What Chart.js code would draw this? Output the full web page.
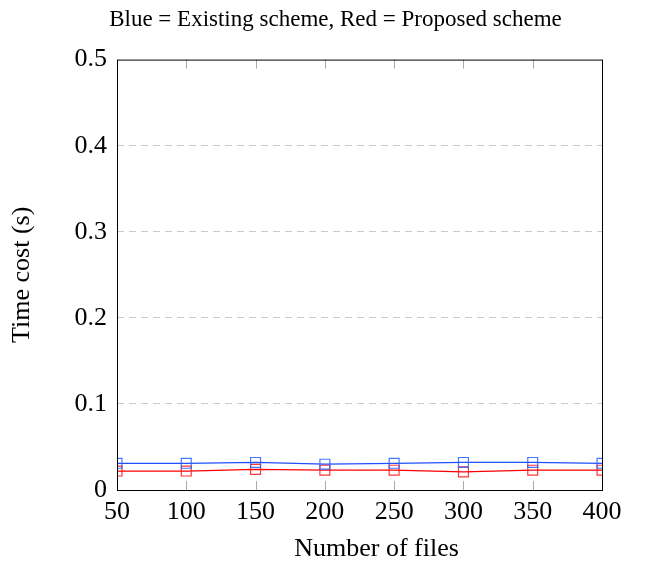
<!DOCTYPE html>
<html>
<head>
<meta charset="utf-8">
<script src="https://cdn.jsdelivr.net/npm/chart.js@4/dist/chart.umd.min.js"></script>
<style>
  html, body { margin: 0; padding: 0; background: #fff; }
  canvas { display: block; }
</style>
</head>
<body>
<canvas id="time-chart" width="658" height="562"></canvas>
<script>
const fileCounts = [50, 100, 150, 200, 250, 300, 350, 400];
const existingCost = [0.031, 0.031, 0.032, 0.030, 0.031, 0.032, 0.032, 0.031];
const proposedCost = [0.022, 0.022, 0.024, 0.023, 0.023, 0.021, 0.023, 0.023];
const yTicks = [0, 0.1, 0.2, 0.3, 0.4, 0.5];

const serif = "'Liberation Serif', 'DejaVu Serif', serif";

const toPoints = (vals) => fileCounts.map((x, i) => ({ x, y: vals[i] }));

// box round the plot plus the short x tick marks inside top and bottom
const frame = {
    id: "frame",
    afterLayout(chart) {
        // the title sits a little right of the canvas centre
        const t = chart.titleBlock;
        if (t) {
            t.left = 69;
            t.right = chart.chartArea.right;
        }
        // x axis title is a bit right of the plot centre too
        const xs = chart.scales.x;
        if (xs && !xs._nudged) {
            const orig = xs.drawTitle.bind(xs);
            xs.drawTitle = (...args) => {
                chart.ctx.save();
                chart.ctx.translate(17, 0);
                orig(...args);
                chart.ctx.restore();
            };
            xs._nudged = true;
        }
    },
    afterDraw(chart) {
        const { ctx, chartArea: a, scales } = chart;
        ctx.save();
        ctx.strokeStyle = "#aaaaaa";
        ctx.lineWidth = 1;
        fileCounts.forEach((v) => {
            const px = Math.round(scales.x.getPixelForValue(v)) + 0.5;
            ctx.beginPath();
            ctx.moveTo(px, a.bottom);
            ctx.lineTo(px, a.bottom - 9);
            ctx.moveTo(px, a.top);
            ctx.lineTo(px, a.top + 9);
            ctx.stroke();
        });
        ctx.strokeStyle = "#000";
        ctx.strokeRect(a.left + 0.5, a.top + 0.5, a.right - a.left, a.bottom - a.top);
        ctx.restore();
    },
};

const ctx = document.getElementById("time-chart");

new Chart(ctx, {
    type: "line",
    data: {
        datasets: [
            {
                label: "Existing scheme",
                data: toPoints(existingCost),
                borderColor: "#1f4fff",
                borderWidth: 1.2,
                pointStyle: "rect",
                pointRadius: 7,
                pointBorderColor: "rgba(40,95,255,0.85)",
                pointBackgroundColor: "transparent",
                pointBorderWidth: 1.2,
                tension: 0,
            },
            {
                label: "Proposed scheme",
                data: toPoints(proposedCost),
                borderColor: "#ff0000",
                borderWidth: 1.2,
                pointStyle: "rect",
                pointRadius: 7,
                pointBorderColor: "rgba(255,20,20,0.85)",
                pointBackgroundColor: "transparent",
                pointBorderWidth: 1.2,
                tension: 0,
            },
        ],
    },
    options: {
        responsive: false,
        animation: false,
        layout: { padding: { left: 0, right: 56, top: 0, bottom: 0 } },
        plugins: {
            legend: { display: false },
            tooltip: { enabled: false },
            title: {
                display: true,
                text: "Blue = Existing scheme, Red = Proposed scheme",
                color: "#000",
                font: { family: serif, size: 23, weight: "normal", lineHeight: 1.2 },
                padding: { top: 6, bottom: 26 },
            },
        },
        scales: {
            x: {
                type: "linear",
                min: 50,
                max: 400,
                afterBuildTicks: (s) => { s.ticks = fileCounts.map((v) => ({ value: v })); },
                afterFit: (s) => { s.height = 72; },
                ticks: {
                    color: "#000",
                    font: { family: serif, size: 26, lineHeight: 1.2 },
                    padding: 7,
                    maxRotation: 0,
                },
                grid: { display: false, drawTicks: false },
                border: { display: false },
                title: {
                    display: true,
                    text: "Number of files",
                    color: "#000",
                    font: { family: serif, size: 26, lineHeight: 1 },
                    padding: { top: 0, bottom: 0 },
                },
            },
            y: {
                min: 0,
                max: 0.5,
                afterBuildTicks: (s) => { s.ticks = yTicks.map((v) => ({ value: v })); },
                afterFit: (s) => { s.width = 117; },
                ticks: {
                    color: "#000",
                    font: { family: serif, size: 26 },
                    padding: 10,
                    callback: (v) => (v === 0 ? "0" : v.toFixed(1)),
                },
                grid: {
                    drawTicks: false,
                    color: (c) => (c.tick && (c.tick.value === 0 || c.tick.value === 0.5) ? "transparent" : "#c8c8c8"),
                    lineWidth: 1,
                },
                border: { display: false, dash: [7, 5] },
                title: {
                    display: true,
                    text: "Time cost (s)",
                    color: "#000",
                    font: { family: serif, size: 26, lineHeight: 1.2 },
                    padding: { top: 7, bottom: 0 },
                },
            },
        },
    },
    plugins: [frame],
});
</script>
</body>
</html>
